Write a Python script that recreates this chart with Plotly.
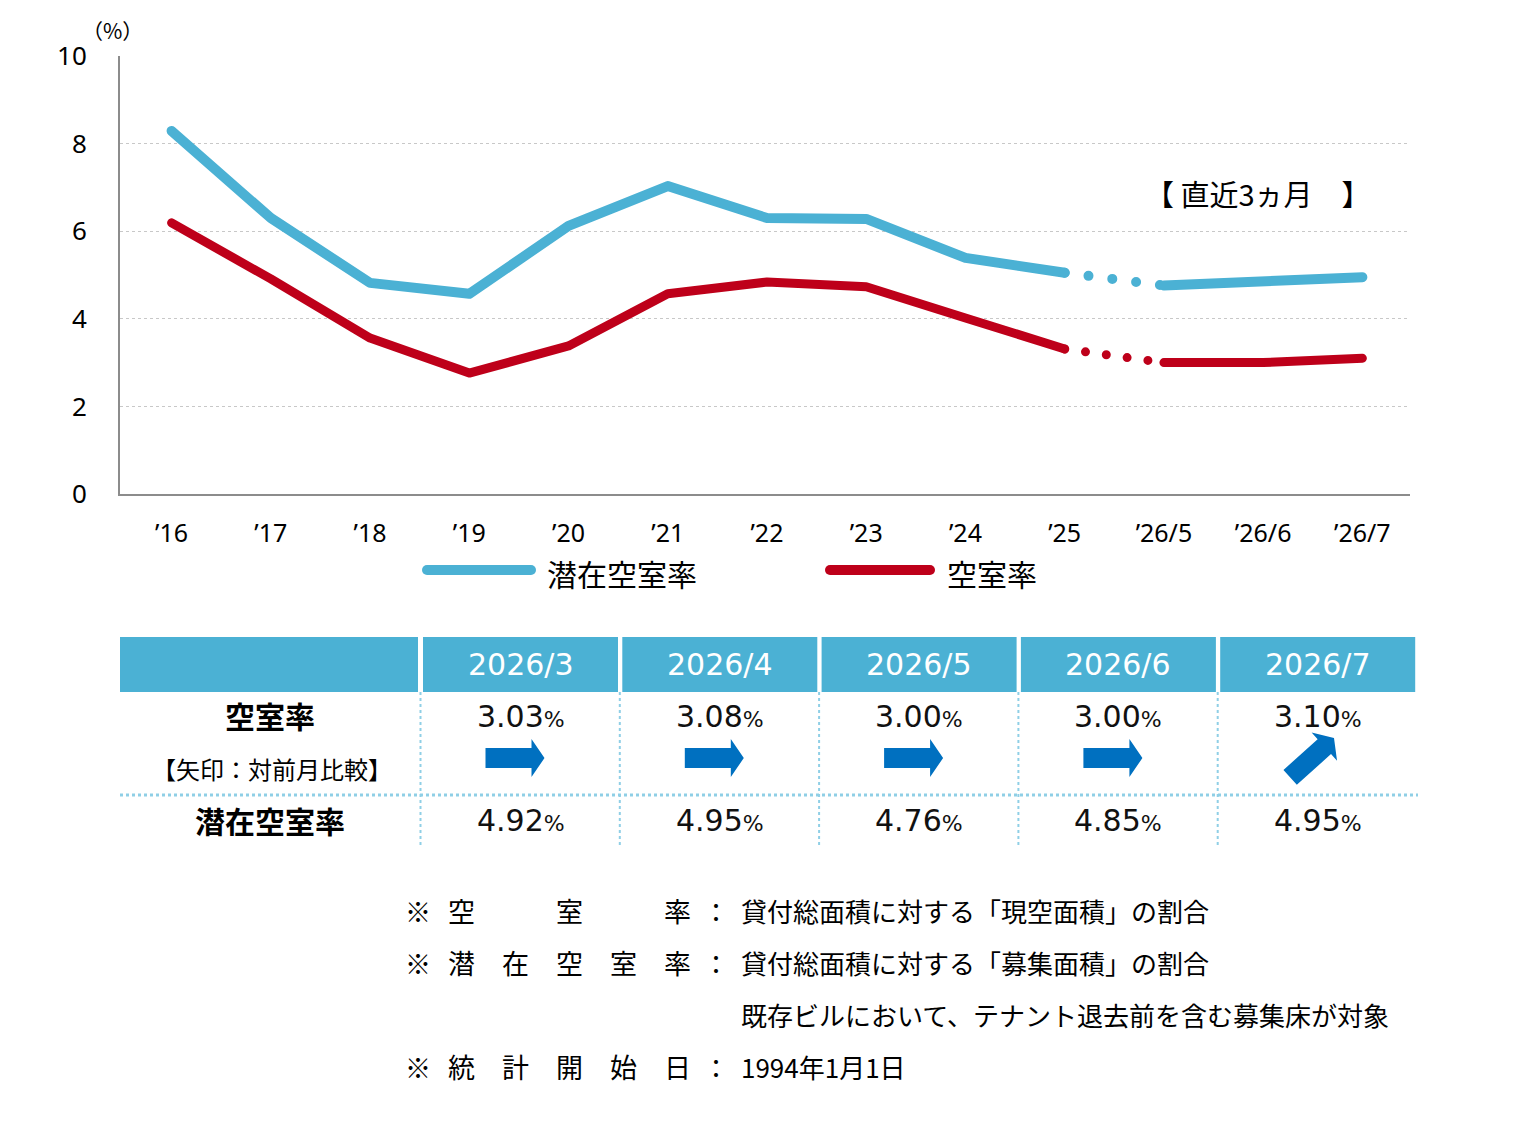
import math
import plotly.graph_objects as go

# 数値データ
categories = ["’16", "’17", "’18", "’19", "’20", "’21", "’22", "’23", "’24", "’25",
              "’26/5", "’26/6", "’26/7"]
latent = [8.29, 6.30, 4.82, 4.57, 6.12, 7.03, 6.30, 6.28, 5.39, 5.05, 4.76, 4.85, 4.95]
vacancy = [6.19, 4.91, 3.56, 2.76, 3.38, 4.57, 4.84, 4.73, 4.02, 3.31, 3.00, 3.00, 3.10]

table_months = ["2026/3", "2026/4", "2026/5", "2026/6", "2026/7"]
table_vacancy = [3.03, 3.08, 3.00, 3.00, 3.10]
table_latent = [4.92, 4.95, 4.76, 4.85, 4.95]
table_trend = ["flat", "flat", "flat", "flat", "up"]

note_labels = ["空　　　室　　　率", "潜　在　空　室　率", "", "統　計　開　始　日"]
note_texts = ["貸付総面積に対する「現空面積」の割合",
              "貸付総面積に対する「募集面積」の割合",
              "既存ビルにおいて、テナント退去前を含む募集床が対象",
              "1994年1月1日"]

W, H = 1540, 1148
BLUE = "#4bb1d4"
RED = "#be001a"
ARROW = "#0070c0"
GRID_BLUE = "#8fcfe6"
JP = "Noto Sans CJK JP"
NUM = "DejaVu Sans"


def px(x):
    return x / W


def py(y):
    return 1 - y / H


def label(text, x, y, size, family=JP, color="#000", xanchor="center"):
    return dict(text=text, xref="paper", yref="paper", x=px(x), y=py(y),
                xanchor=xanchor, yanchor="middle", showarrow=False,
                font=dict(family=family, size=size, color=color))


fig = go.Figure()

# 折れ線（'25 → '26/5 の間は点線）
split = categories.index("’25")
for vals, color, width, gap in [(latent, BLUE, 10, 24), (vacancy, RED, 9, 21)]:
    fig.add_trace(go.Scatter(x=categories[:split + 1], y=vals[:split + 1], mode="lines",
                             line=dict(color=color, width=width), hoverinfo="skip"))
    fig.add_trace(go.Scatter(x=categories[split:split + 2], y=vals[split:split + 2], mode="lines",
                             line=dict(color=color, width=width, dash=f"0px,{gap}px"),
                             hoverinfo="skip"))
    fig.add_trace(go.Scatter(x=categories[split + 1:], y=vals[split + 1:], mode="lines",
                             line=dict(color=color, width=width), hoverinfo="skip"))

shapes = []
annotations = []

# 凡例
for (x0, x1, tx, name, color) in [(427, 531, 545, "潜在空室率", BLUE),
                                   (830, 930, 945, "空室率", RED)]:
    shapes.append(dict(type="line", xref="paper", yref="paper", x0=px(x0), x1=px(x1),
                       y0=py(570), y1=py(570), line=dict(color=color, width=10)))
    annotations.append(label(name, tx, 573, 30, xanchor="left"))

annotations.append(label("（%）", 112, 30, 21))
annotations.append(label("【 直近3ヵ月　】", 1258, 193, 29))

# 表
hdr_top, hdr_bot = 637, 692
mid_line, tbl_bot = 795, 848
col_left = [423 + i * 199.3 for i in range(len(table_months))]
col_w = 195

shapes.append(dict(type="rect", xref="paper", yref="paper", x0=px(120), x1=px(418),
                   y0=py(hdr_bot), y1=py(hdr_top), fillcolor=BLUE, line=dict(width=0)))
for i, m in enumerate(table_months):
    cl = col_left[i]
    cx = cl + col_w / 2
    shapes.append(dict(type="rect", xref="paper", yref="paper", x0=px(cl), x1=px(cl + col_w),
                       y0=py(hdr_bot), y1=py(hdr_top), fillcolor=BLUE, line=dict(width=0)))
    shapes.append(dict(type="line", xref="paper", yref="paper", x0=px(cl - 2.5), x1=px(cl - 2.5),
                       y0=py(hdr_bot), y1=py(tbl_bot),
                       line=dict(color=GRID_BLUE, width=2, dash="dot")))
    annotations.append(label(m, cx, 664, 30, family=NUM, color="white"))
    annotations.append(label(f"{table_vacancy[i]:.2f}<span style='font-size:22px'>%</span>",
                             cx, 716, 30, family=NUM, color="#111"))
    annotations.append(label(f"{table_latent[i]:.2f}<span style='font-size:22px'>%</span>",
                             cx, 820, 30, family=NUM, color="#111"))
    # 矢印
    ang = math.radians(42 if table_trend[i] == "up" else 0)
    acx, acy = cx - 6, 758
    pts = [(-29, -10), (17, -10), (17, -19), (30, 0), (17, 19), (17, 10), (-29, 10)]
    path = ""
    for k, (lx, ly) in enumerate(pts):
        X = acx + lx * math.cos(ang) + ly * math.sin(ang)
        Y = acy - lx * math.sin(ang) + ly * math.cos(ang)
        path += ("M" if k == 0 else "L") + f"{px(X):.5f},{py(Y):.5f} "
    shapes.append(dict(type="path", xref="paper", yref="paper", path=path + "Z",
                       fillcolor=ARROW, line=dict(width=0)))

shapes.append(dict(type="line", xref="paper", yref="paper", x0=px(120), x1=px(1418),
                   y0=py(mid_line), y1=py(mid_line), line=dict(color=GRID_BLUE, width=3, dash="dot")))

annotations.append(label("<b>空室率</b>", 270, 715, 30))
annotations.append(label("【矢印：対前月比較】", 272, 768, 24))
annotations.append(label("<b>潜在空室率</b>", 270, 820, 30))

# 注記
for i, (lab, txt) in enumerate(zip(note_labels, note_texts)):
    ny = 910 + i * 52
    if lab:
        annotations.append(label("※", 418, ny, 26))
        annotations.append(label(lab, 446, ny, 27, xanchor="left"))
        annotations.append(label("：", 716, ny, 26))
    annotations.append(label(txt, 739, ny, 26, xanchor="left"))

fig.update_layout(
    width=W, height=H,
    margin=dict(l=0, r=0, t=0, b=0, pad=0, autoexpand=False),
    paper_bgcolor="white", plot_bgcolor="white",
    showlegend=False,
    xaxis=dict(type="category", domain=[px(120), px(1410)], range=[-0.52, 12.48],
               showline=True, linecolor="#8c8c8c", linewidth=2, showgrid=False,
               ticks="", ticklabelstandoff=16, automargin=False,
               tickfont=dict(family="Noto Sans, " + JP, size=25, color="#000")),
    yaxis=dict(domain=[py(494), py(56)], range=[0, 10], tickvals=[0, 2, 4, 6, 8, 10],
               showgrid=True, gridcolor="#c8c8c8", griddash="dot", gridwidth=1,
               showline=True, linecolor="#8c8c8c", linewidth=2, zeroline=False,
               ticks="", ticklabelstandoff=26, automargin=False,
               tickfont=dict(family="Noto Sans, " + JP, size=26, color="#000")),
    shapes=shapes,
    annotations=annotations,
)

post = ("document.body.style.margin='0';"
        "var g=document.getElementById('{plot_id}');"
        "g.querySelectorAll('.scatterlayer path.js-line').forEach(function(p){"
        "p.style.strokeLinecap='round';p.style.strokeLinejoin='round';});"
        "g.querySelectorAll('.shapelayer path').forEach(function(p){"
        "if(parseFloat(p.style.strokeWidth)>=8){p.style.strokeLinecap='round';}});")

fig.write_html("out.html", config={"displayModeBar": False}, post_script=post)
